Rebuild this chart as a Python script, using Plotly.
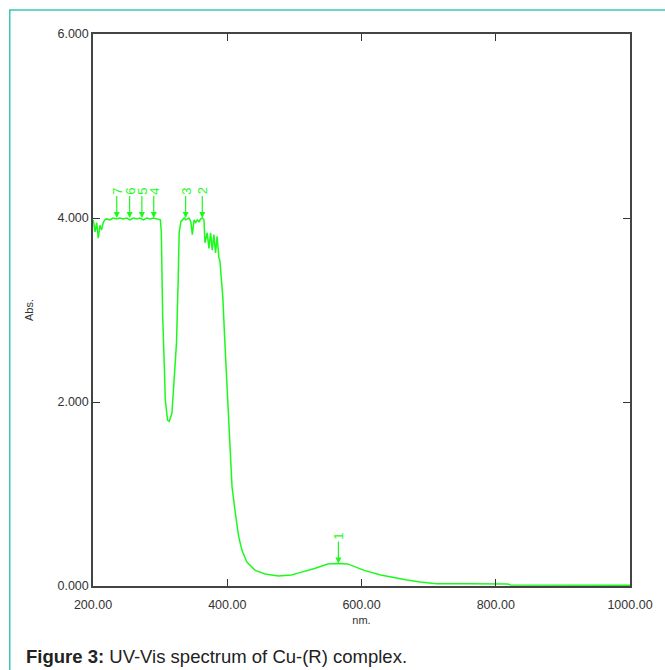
import plotly.graph_objects as go

# Spectrum data
wavelength_nm = [
    200.4, 203.0, 205.5, 207.8, 210.3, 212.8, 215.2, 217.7, 220.0, 225.0,
    230.0, 235.0, 240.0, 245.0, 250.0, 255.0, 260.0, 265.0, 270.0, 275.0,
    280.0, 285.0, 290.0, 295.0, 298.5, 300.4, 301.8, 303.8, 306.3, 307.7,
    311.1, 313.6, 317.6, 321.0, 324.4, 326.9, 328.4, 330.9, 332.8, 335.8,
    338.0, 340.7, 343.0, 345.7, 348.0, 350.6, 353.0, 355.4, 357.9, 360.4,
    362.8, 365.3, 366.8, 370.2, 372.7, 375.2, 377.6, 380.1, 382.6, 384.9,
    387.5, 389.0, 391.4, 393.4, 396.3, 399.7, 402.2, 404.7, 407.1, 412.1,
    417.0, 421.8, 429.2, 441.6, 456.4, 476.0, 495.7, 505.5, 520.0, 530.1,
    549.8, 565.6, 579.3, 603.9, 628.5, 653.1, 667.9, 687.5, 712.2, 760.0,
    800.7, 818.0, 822.0, 900.0, 1000.0,
]
absorbance = [
    3.98, 3.85, 3.95, 3.78, 3.92, 3.87, 3.95, 3.98, 3.99, 3.98,
    4.00, 3.99, 4.00, 3.99, 4.00, 3.98, 4.00, 3.99, 4.00, 3.98,
    4.00, 3.99, 4.00, 3.99, 3.99, 3.98, 3.84, 2.93, 2.38, 2.02,
    1.80, 1.79, 1.88, 2.21, 2.64, 3.33, 3.84, 3.96, 3.98, 4.00,
    3.98, 3.99, 4.00, 3.96, 3.82, 3.98, 3.95, 3.98, 3.96, 3.99,
    4.00, 3.98, 3.73, 3.84, 3.67, 3.84, 3.65, 3.82, 3.62, 3.80,
    3.57, 3.54, 3.29, 3.14, 2.67, 2.17, 1.75, 1.44, 1.08, 0.79,
    0.54, 0.39, 0.26, 0.17, 0.13, 0.11, 0.12, 0.14, 0.17, 0.19,
    0.24, 0.245, 0.24, 0.17, 0.12, 0.084, 0.065, 0.043, 0.025, 0.025,
    0.025, 0.022, 0.012, 0.010, 0.008,
]

# Peak markers
peak_labels = ["1", "2", "3", "4", "5", "6", "7"]
peak_wl = [565.6, 362.8, 338.0, 290.5, 272.8, 254.6, 235.4]
peak_abs = [0.245, 4.00, 4.00, 4.00, 4.00, 4.00, 4.00]

x_ticks = [200, 400, 600, 800, 1000]
x_tick_labels = ["200.00", "400.00", "600.00", "800.00", "1000.00"]
y_ticks = [0, 2, 4, 6]
y_tick_labels = ["0.000", "2.000", "4.000", "6.000"]

GREEN = "#1cfa1c"
FONT = "Liberation Sans, Arial, sans-serif"
PLOT_W = 542

fig = go.Figure()
fig.add_trace(go.Scatter(
    x=wavelength_nm, y=absorbance, mode="lines",
    line=dict(color=GREEN, width=1.5), hoverinfo="skip", showlegend=False,
))

for lab, wx, wy in zip(peak_labels, peak_wl, peak_abs):
    fig.add_annotation(
        x=wx, y=wy, xref="x", yref="y", text=lab, textangle=-90,
        showarrow=True, ax=0, ay=-27, arrowhead=2, arrowsize=1,
        arrowwidth=1.2, arrowcolor=GREEN, standoff=0,
        font=dict(family=FONT, size=13, color=GREEN),
    )

axis_common = dict(
    showgrid=False, zeroline=False, showline=True, linecolor="#444",
    linewidth=1.5, mirror="ticks", ticks="inside", ticklen=7,
    tickcolor="#333", tickwidth=1.2,
    tickfont=dict(family=FONT, size=12.5, color="#333"),
)

fig.update_layout(
    width=665, height=670,
    margin=dict(l=93, r=30, t=34, b=84),
    paper_bgcolor="white", plot_bgcolor="white",
    xaxis=dict(range=[200, 1000], tickvals=x_ticks, ticktext=x_tick_labels,
               ticklabelstandoff=6,
               title=dict(text="nm.", font=dict(family=FONT, size=11, color="#333"),
                          standoff=6),
               **axis_common),
    yaxis=dict(range=[0, 6], tickvals=y_ticks, ticktext=y_tick_labels,
               title=dict(text="Abs.", font=dict(family=FONT, size=11, color="#333"),
                          standoff=22),
               **axis_common),
    showlegend=False,
)

# Teal page frame
fig.add_shape(type="rect", xref="paper", yref="paper",
              x0=(9 - 93) / PLOT_W, x1=(700 - 93) / PLOT_W,
              y0=(586 - 700) / 552, y1=(586 - 10) / 552,
              line=dict(color="#3cc8b4", width=1.5), fillcolor="rgba(0,0,0,0)",
              layer="below")

# Caption
fig.add_annotation(
    xref="paper", yref="paper", x=(23 - 93) / PLOT_W, y=(586 - 656) / 552,
    xanchor="left", yanchor="middle", showarrow=False,
    text="<b>Figure 3:</b> UV-Vis spectrum of Cu-(R) complex.",
    font=dict(family=FONT, size=18.5, color="#222"),
)

fig.write_html("out.html")
